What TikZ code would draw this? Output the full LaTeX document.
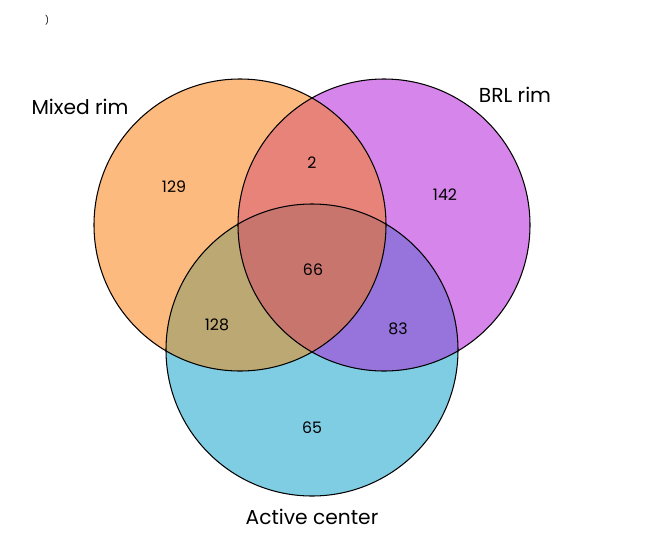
\documentclass[tikz,border=0pt]{standalone}
\usepackage{fontspec}
\setmainfont{Poppins}
\definecolor{mixcol}{HTML}{FDBA7E}
\definecolor{brlcol}{HTML}{D685EA}
\definecolor{actcol}{HTML}{7FCDE3}
\definecolor{mbcol}{HTML}{E8837A}
\definecolor{macol}{HTML}{BBA872}
\definecolor{bacol}{HTML}{9674DC}
\definecolor{allcol}{HTML}{C8756E}
\begin{document}
\begin{tikzpicture}[x=0.02cm,y=-0.02cm,
  setlabel/.style={font=\fontsize{11.5}{13}\selectfont},
  count/.style={font=\fontsize{9}{11}\selectfont}]
\useasboundingbox (0,0) rectangle (653,558);
\def\rad{146}
\coordinate (M) at (240,225);
\coordinate (B) at (384,225);
\coordinate (A) at (312,350);
% base fills
\fill[mixcol] (M) circle (\rad);
\fill[brlcol] (B) circle (\rad);
\fill[actcol] (A) circle (\rad);
% overlaps
\begin{scope}\clip (M) circle (\rad); \fill[mbcol] (B) circle (\rad); \end{scope}
\begin{scope}\clip (M) circle (\rad); \fill[macol] (A) circle (\rad); \end{scope}
\begin{scope}\clip (B) circle (\rad); \fill[bacol] (A) circle (\rad); \end{scope}
\begin{scope}\clip (M) circle (\rad); \clip (B) circle (\rad); \fill[allcol] (A) circle (\rad); \end{scope}
% outlines
\draw[line width=0.6pt] (M) circle (\rad) (B) circle (\rad) (A) circle (\rad);
% labels
\node[font=\tiny] (mark) at (47,20) {)};
\node[setlabel] (mixlab) at (80,107) {Mixed rim};
\node[setlabel] (brllab) at (515,95) {BRL rim};
\node[setlabel] (actlab) at (312,517) {Active center};
\node[count] (n129) at (174,187) {129};
\node[count] (n2) at (312,163) {2};
\node[count] (n142) at (445,195) {142};
\node[count] (n66) at (313,270) {66};
\node[count] (n128) at (217,325) {128};
\node[count] (n83) at (398,329) {83};
\node[count] (n65) at (312,428) {65};
\end{tikzpicture}
\end{document}
